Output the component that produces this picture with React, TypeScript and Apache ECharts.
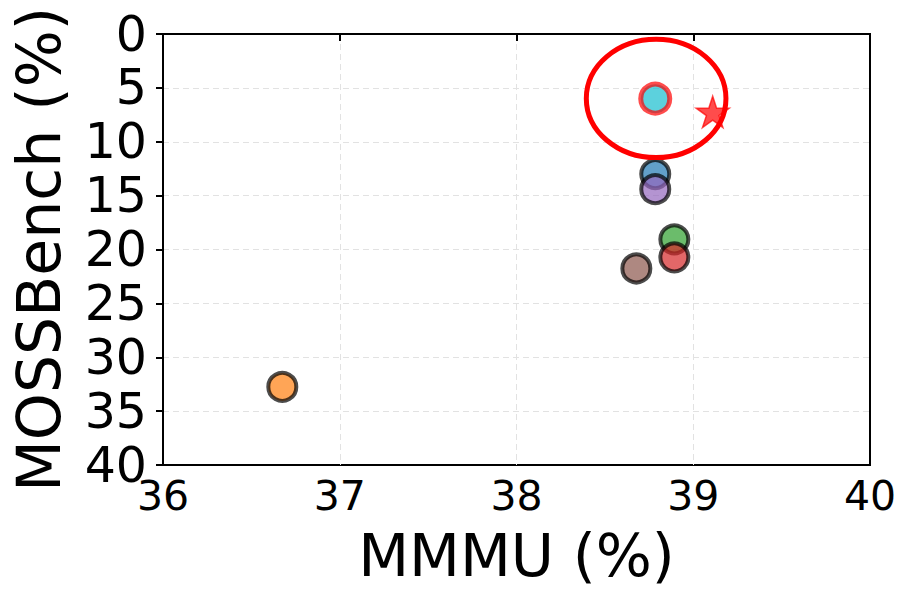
import React, { useEffect, useRef } from "react";
import * as echarts from "echarts";

// MMMU (%) and MOSSBench (%) per model (tab10 colour order)
const mmmu = [38.785, 36.675, 38.893, 38.893, 38.785, 38.678];
const mossbench = [13.0, 32.75, 19.06, 20.73, 14.4, 21.76];
const colors = ["#1f77b4", "#ff7f0e", "#2ca02c", "#d62728", "#9467bd", "#8c564b"];

// highlighted model (cyan with red edge)
const highlightPoint = [38.785, 6.0];
// star marker
const starPoint = [39.11, 7.23];
// ellipse: center x, center y, half-width (x units), half-height (y units)
const ellipse = [38.79, 5.98, 0.395, 5.49];

const xTicks = { min: 36, max: 40, interval: 1 };
const yTicks = { min: 0, max: 40, interval: 5 };

const STAR =
  "path://M50 0 L61.23 34.55 L97.55 34.55 L68.16 55.9 L79.39 90.45 L50 69.1 L20.61 90.45 L31.84 55.9 L2.45 34.55 L38.77 34.55 Z";

export default function App() {
  const ref = useRef<HTMLDivElement>(null);
  useEffect(() => {
    document.body.style.margin = "0";
    const chart = echarts.init(ref.current!, null, { renderer: "svg" });
    const font = "DejaVu Sans";
    const gridLine = {
      show: true,
      showMinLine: false,
      showMaxLine: false,
      lineStyle: { color: "#e2e2e2", width: 1, type: [6, 4] as any },
    };
    const scatterSeries = mmmu.map((x, i) => ({
      type: "scatter",
      name: "m" + i,
      data: [[x, mossbench[i]]],
      symbol: "circle",
      symbolSize: 28,
      itemStyle: { color: colors[i], borderColor: "#000000", borderWidth: 4, opacity: 0.7 },
      z: 3,
    }));
    chart.setOption({
      animation: false,
      grid: {
        left: 163,
        right: 44,
        top: 34,
        bottom: 139,
        show: true,
        borderColor: "#000",
        borderWidth: 2,
        backgroundColor: "transparent",
      },
      xAxis: {
        type: "value",
        ...xTicks,
        name: "MMMU (%)",
        nameLocation: "middle",
        nameGap: 90,
        nameTextStyle: { fontFamily: font, fontSize: 59, color: "#000", verticalAlign: "middle" },
        axisLine: { show: true, lineStyle: { color: "#000", width: 2 } },
        axisTick: { show: true, length: 7, lineStyle: { color: "#000", width: 2 } },
        axisLabel: { fontFamily: font, fontSize: 41, color: "#000", margin: 10 },
        splitLine: gridLine,
      },
      yAxis: {
        type: "value",
        ...yTicks,
        inverse: true,
        name: "MOSSBench (%)",
        nameLocation: "middle",
        nameGap: 124,
        nameTextStyle: { fontFamily: font, fontSize: 60, color: "#000", verticalAlign: "middle", align: "center" },
        axisLine: { show: true, lineStyle: { color: "#000", width: 2 } },
        axisTick: { show: true, length: 7, lineStyle: { color: "#000", width: 2 } },
        axisLabel: { fontFamily: font, fontSize: 49, color: "#000", margin: 16 },
        splitLine: gridLine,
      },
      series: [
        ...scatterSeries,
        {
          type: "scatter",
          name: "highlight",
          data: [highlightPoint],
          symbol: "circle",
          symbolSize: 29,
          itemStyle: { color: "#17becf", borderColor: "#ff0000", borderWidth: 5, opacity: 0.7 },
          z: 3,
        },
        {
          type: "scatter",
          name: "star",
          data: [starPoint],
          symbol: STAR,
          symbolSize: 33,
          symbolKeepAspect: true,
          itemStyle: { color: "#ff0000", borderColor: "#ff0000", borderWidth: 1.5, opacity: 0.7 },
          z: 3,
        },
        {
          type: "custom",
          name: "ellipse",
          data: [ellipse],
          clip: false,
          z: 4,
          encode: { x: 0, y: 1 },
          renderItem: (params: any, api: any) => {
            const c = api.coord([api.value(0), api.value(1)]);
            const s = api.size([api.value(2), api.value(3)]);
            return {
              type: "ellipse",
              shape: { cx: c[0], cy: c[1], rx: s[0], ry: s[1] },
              style: { fill: "none", stroke: "#ff0000", lineWidth: 5 },
            };
          },
        },
      ],
    });
    return () => chart.dispose();
  }, []);
  return <div ref={ref} style={{ position: "absolute", left: 0, top: 0, width: 914, height: 604 }} />;
}
